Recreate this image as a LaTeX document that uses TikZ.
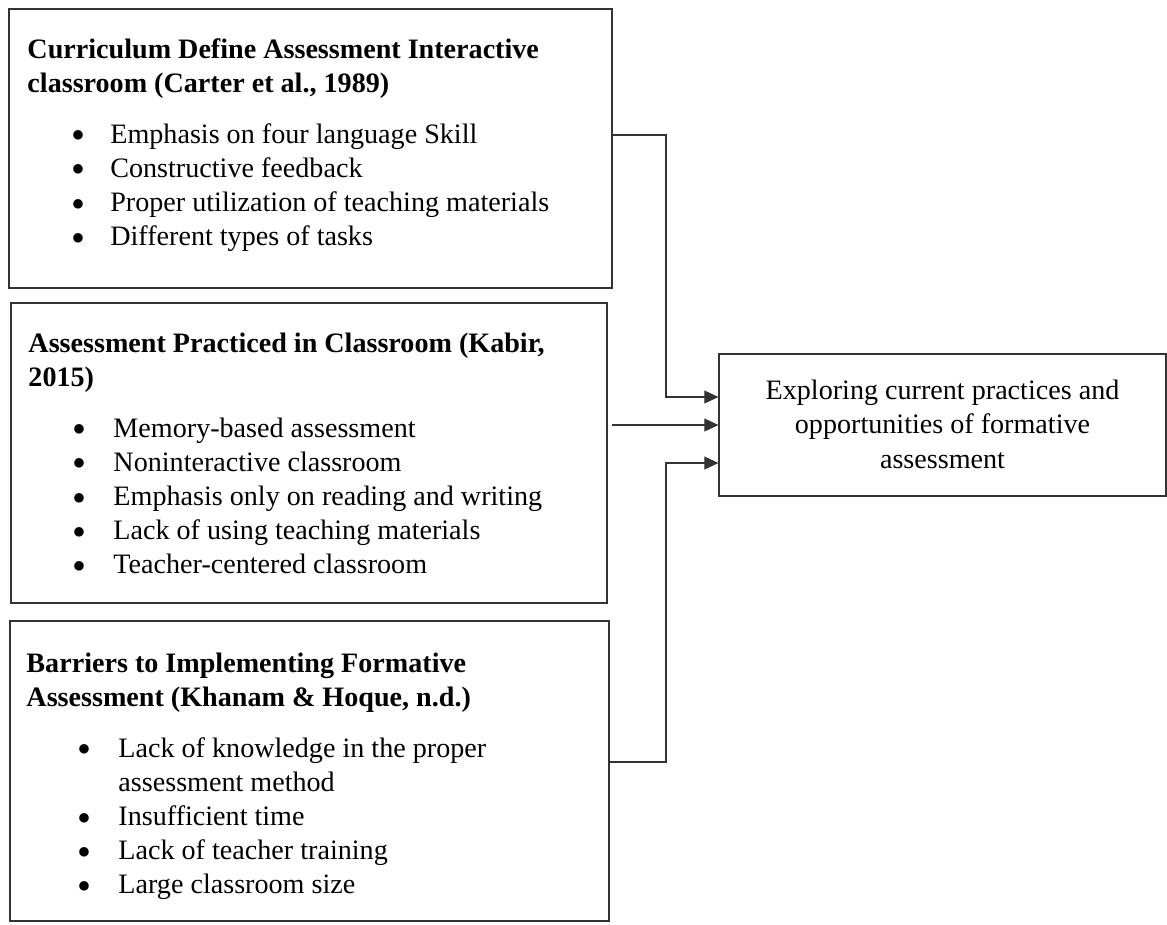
\documentclass[tikz,border=0pt]{standalone}
\usepackage{fontspec}
\setmainfont{Liberation Serif}
\usetikzlibrary{arrows.meta,fit,calc}

\newcommand{\bul}{\smash{\raisebox{-2.4pt}{\fontsize{17}{14.6}\selectfont\textbullet}}}

\begin{document}
\begin{tikzpicture}[x=0.015cm,y=-0.015cm,
    box/.style={draw=black!80,line width=0.5pt,inner sep=0pt},
    txt/.style={inner sep=0pt,anchor=base west,font=\fontsize{12}{14.6}\selectfont},
    link/.style={draw=black!80,line width=0.5pt,-{Triangle[length=6pt,width=5.5pt]}}]
    \useasboundingbox (0,0) rectangle (1167,924);

    \node[box,fit={(9,9) (612,288)}] (curr) {};
    \node[box,fit={(11,303) (607,603)}] (prac) {};
    \node[box,fit={(10,621) (609,921)}] (barr) {};

    \node[txt] (currh) at (27,58) {\bfseries\begin{tabular}[t]{@{}l@{}}
        Curriculum Define Assessment Interactive\\
        classroom (Carter et al., 1989)\end{tabular}};
    \node[txt] (currl) at (71,143) {\begin{tabular}[t]{@{}p{16.6pt}@{}l@{}}
        \bul & Emphasis on four language Skill\\
        \bul & Constructive feedback\\
        \bul & Proper utilization of teaching materials\\
        \bul & Different types of tasks\end{tabular}};

    \node[txt] (prach) at (28,352) {\bfseries\begin{tabular}[t]{@{}l@{}}
        Assessment Practiced in Classroom (Kabir,\\
        2015)\end{tabular}};
    \node[txt] (pracl) at (72,437) {\begin{tabular}[t]{@{}p{17.5pt}@{}l@{}}
        \bul & Memory-based assessment\\
        \bul & Noninteractive classroom\\
        \bul & Emphasis only on reading and writing\\
        \bul & Lack of using teaching materials\\
        \bul & Teacher-centered classroom\end{tabular}};

    \node[txt] (barrh) at (26,672) {\bfseries\begin{tabular}[t]{@{}l@{}}
        Barriers to Implementing Formative\\
        Assessment (Khanam \& Hoque, n.d.)\end{tabular}};
    \node[txt] (barrl) at (77,757) {\begin{tabular}[t]{@{}p{17.5pt}@{}l@{}}
        \bul & Lack of knowledge in the proper\\
             & assessment method\\
        \bul & Insufficient time\\
        \bul & Lack of teacher training\\
        \bul & Large classroom size\end{tabular}};

    \node[box,fit={(719,354) (1166,496)}] (goal) {};
    \node[txt,anchor=center] (goaltxt) at ($(goal.center)+(0,2)$)
        {\begin{tabular}{@{}c@{}}Exploring current practices and\\
        opportunities of formative\\assessment\end{tabular}};

    \coordinate (bendA) at (666,135);
    \coordinate (bendC) at (666,762);
    \draw[link] (curr.east |- bendA) -- (bendA) |- ($(goal.west)+(0,-28)$);
    \draw[link,shorten <=2pt] (prac.east |- goal.west) -- (goal.west);
    \draw[link] (barr.east |- bendC) -- (bendC) |- ($(goal.west)+(0,38)$);
\end{tikzpicture}
\end{document}
